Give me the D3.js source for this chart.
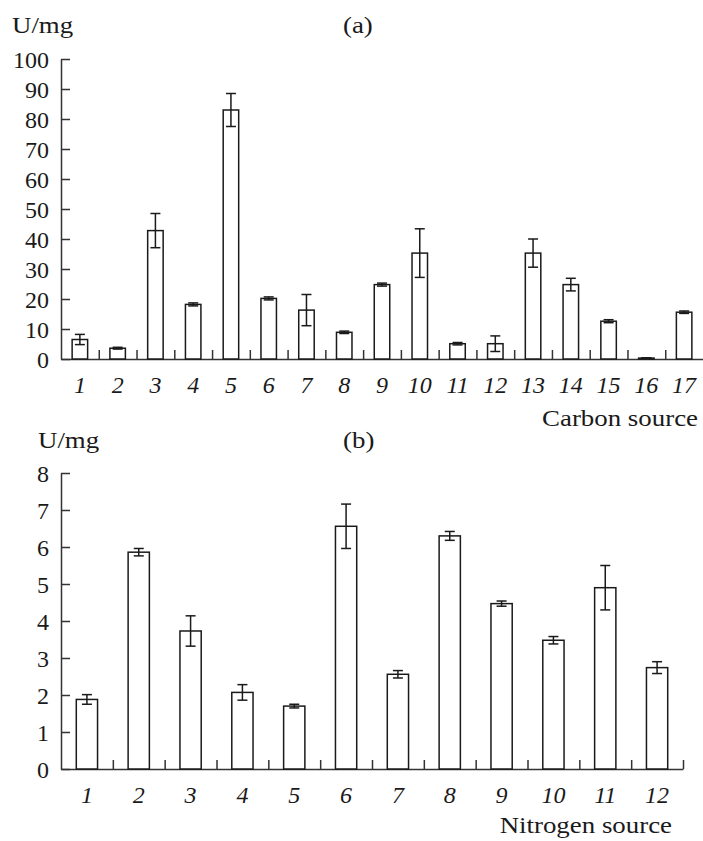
<!DOCTYPE html>
<html>
<head>
<meta charset="utf-8">
<script src="https://cdn.jsdelivr.net/npm/d3@7"></script>
<style>
body { margin: 0; background: #fff; }
text { font-family: "Liberation Serif", "Times New Roman", serif; fill: #1a1a1a; }
</style>
</head>
<body>
<svg></svg>
<script>
// panel (a) data
var carbonLabels = ["1","2","3","4","5","6","7","8","9","10","11","12","13","14","15","16","17"];
var carbonValues = [6.5, 3.6, 42.8, 18.2, 83, 20.2, 16.3, 8.9, 24.8, 35.3, 5.1, 5.1, 35.3, 24.8, 12.6, 0.3, 15.6];
var carbonErrors = [1.7, 0.3, 5.7, 0.5, 5.5, 0.5, 5.2, 0.4, 0.5, 8.1, 0.4, 2.6, 4.7, 2.1, 0.5, 0.1, 0.4];
var carbonTicks = [0, 10, 20, 30, 40, 50, 60, 70, 80, 90, 100];

// panel (b) data
var nitrogenLabels = ["1","2","3","4","5","6","7","8","9","10","11","12"];
var nitrogenValues = [1.88, 5.86, 3.73, 2.07, 1.70, 6.56, 2.56, 6.30, 4.47, 3.48, 4.90, 2.74];
var nitrogenErrors = [0.13, 0.1, 0.41, 0.21, 0.05, 0.6, 0.1, 0.12, 0.07, 0.1, 0.6, 0.16];
var nitrogenTicks = [0, 1, 2, 3, 4, 5, 6, 7, 8];

var ink = "#1a1a1a";
var stretch = 1.12;

var svg = d3.select("svg").attr("width", 703).attr("height", 841);

function word(txt, x, y, anchor) {
  svg.append("text")
    .attr("transform", "translate(" + x + "," + y + ") scale(" + stretch + ",1)")
    .attr("text-anchor", anchor || "start")
    .style("font-size", "24px")
    .text(txt);
}

function panel(p) {
  var x = d3.scaleBand()
    .domain(p.labels)
    .range([p.left, p.right])
    .paddingInner(0.59)
    .paddingOuter(0.295);

  var xi = d3.scaleLinear()
    .domain([0, p.labels.length])
    .range([p.left, p.right]);

  var y = d3.scaleLinear()
    .domain([0, p.yMax])
    .range([p.zero, p.top]);

  // y axis, ticks pointing inward
  var gy = svg.append("g")
    .attr("transform", "translate(" + p.left + ",0)")
    .call(d3.axisLeft(y).tickValues(p.ticks).tickSizeInner(-9).tickSizeOuter(0).tickPadding(12));
  gy.selectAll("text")
    .attr("x", -12).attr("dy", "0.34em")
    .style("font-size", "24px").style("font-family", null).attr("fill", ink);

  // x axis: separators between categories
  var sep = d3.range(1, p.labels.length + (p.endTick ? 1 : 0));
  svg.append("g")
    .attr("transform", "translate(0," + p.zero + ")")
    .call(d3.axisBottom(xi).tickValues(sep).tickSizeInner(-9).tickSizeOuter(0).tickFormat(""));

  // x labels
  var gx = svg.append("g")
    .attr("transform", "translate(0," + p.zero + ")")
    .call(d3.axisBottom(x).tickSize(0));
  gx.select(".domain").remove();
  gx.selectAll("text")
    .attr("y", p.labelDy).attr("dy", null)
    .style("font-size", "24px").style("font-style", "italic").style("font-family", null).attr("fill", ink);

  svg.selectAll(".domain, .tick line")
    .attr("stroke", "#333").attr("stroke-width", 1.5);

  var bars = svg.append("g");
  bars.selectAll("rect")
    .data(p.values)
    .enter()
    .append("rect")
      .attr("x", function(d, i) { return x(p.labels[i]); })
      .attr("y", function(d) { return y(d); })
      .attr("width", x.bandwidth())
      .attr("height", function(d) { return p.zero - y(d); })
      .attr("fill", "#fff")
      .attr("stroke", ink)
      .attr("stroke-width", 1.5);

  var err = svg.append("g").attr("stroke", ink).attr("stroke-width", 1.5);
  p.values.forEach(function(v, i) {
    var cx = x(p.labels[i]) + x.bandwidth() / 2;
    var e = p.errors[i];
    err.append("line").attr("x1", cx).attr("x2", cx).attr("y1", y(v + e)).attr("y2", y(v - e));
    err.append("line").attr("x1", cx - 5).attr("x2", cx + 5).attr("y1", y(v + e)).attr("y2", y(v + e));
    err.append("line").attr("x1", cx - 5).attr("x2", cx + 5).attr("y1", y(v - e)).attr("y2", y(v - e));
  });

  word("U/mg", p.unitX, p.titleY);
  word(p.letter, 343, p.titleY);
  word(p.xTitle, p.xTitleX, p.xTitleY, "end");
}

panel({
  labels: carbonLabels, values: carbonValues, errors: carbonErrors, ticks: carbonTicks,
  yMax: 100, left: 61, right: 703, top: 59, zero: 359, endTick: false, labelDy: 34,
  unitX: 12, titleY: 33, letter: "(a)", xTitle: "Carbon source", xTitleX: 698, xTitleY: 426
});

panel({
  labels: nitrogenLabels, values: nitrogenValues, errors: nitrogenErrors, ticks: nitrogenTicks,
  yMax: 8, left: 61, right: 683, top: 473, zero: 769, endTick: true, labelDy: 34,
  unitX: 38, titleY: 448, letter: "(b)", xTitle: "Nitrogen source", xTitleX: 672, xTitleY: 833
});
</script>
</body>
</html>
